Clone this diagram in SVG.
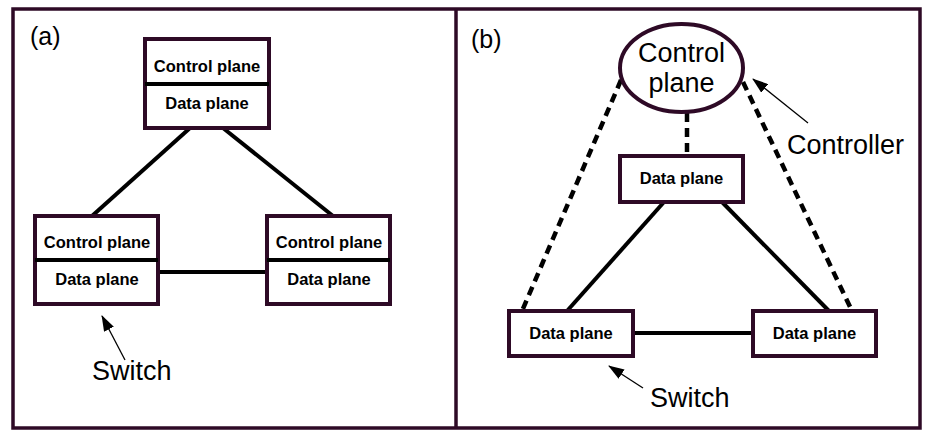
<svg xmlns="http://www.w3.org/2000/svg" width="929" height="438" viewBox="0 0 929 438">
<style>
.frame{fill:none;stroke:#2e0a26;stroke-width:3.5}
.box{fill:#fff;stroke:#2e0a26;stroke-width:4}
.div{stroke:#000;stroke-width:4}
.link{stroke:#000;stroke-width:4;fill:none}
.dash{stroke:#000;stroke-width:4.5;fill:none;stroke-dasharray:9 6}
.ptr{stroke:#000;stroke-width:1.3;fill:none;marker-end:url(#ah)}
.bl{font-family:"Liberation Sans",Arial,sans-serif;font-weight:bold;font-size:16.5px;text-anchor:middle;fill:#000}
.lab{font-family:"Liberation Sans",Arial,sans-serif;font-size:27px;fill:#000}
</style>
<defs>
<marker id="ah" viewBox="0 0 16 11" refX="15" refY="5.5" markerWidth="16" markerHeight="11" markerUnits="userSpaceOnUse" orient="auto">
<path d="M0,0 L16,5.5 L0,11 Z" fill="#000"/>
</marker>
</defs>
<g id="frames">
<rect class="frame" x="13" y="9" width="907" height="419"/>
<line class="frame" x1="456" y1="9" x2="456" y2="428"/>
</g>
<g id="connectors">
<line class="link" x1="190" y1="128" x2="92" y2="216"/>
<line class="link" x1="223" y1="128" x2="333" y2="216"/>
<line class="link" x1="158" y1="272" x2="267" y2="272"/>
<line class="link" x1="664" y1="202" x2="567" y2="311"/>
<line class="link" x1="722" y1="202" x2="829" y2="311"/>
<line class="link" x1="633" y1="333" x2="753" y2="333"/>
<line class="dash" x1="687" y1="113" x2="687" y2="156"/>
<line class="dash" x1="621" y1="80" x2="522" y2="311"/>
<line class="dash" x1="743" y1="82" x2="852" y2="311"/>
<line class="ptr" x1="125" y1="360" x2="102" y2="316"/>
<line class="ptr" x1="808" y1="123" x2="753" y2="79"/>
<line class="ptr" x1="643" y1="388" x2="609" y2="366"/>
</g>
<g id="label-a"><text class="lab" x="30" y="45" style="font-size:25px">(a)</text></g>
<g id="label-b"><text class="lab" x="471" y="48" style="font-size:25px">(b)</text></g>
<g id="switch-a-top">
<rect class="box" x="145" y="39" width="124" height="89"/>
<line class="div" x1="145" y1="84" x2="269" y2="84"/>
<text class="bl" x="207" y="72">Control plane</text>
<text class="bl" x="207" y="109">Data plane</text>
</g>
<g id="switch-a-left">
<rect class="box" x="35" y="216" width="123" height="88"/>
<line class="div" x1="35" y1="260" x2="158" y2="260"/>
<text class="bl" x="97" y="248">Control plane</text>
<text class="bl" x="97" y="285">Data plane</text>
</g>
<g id="switch-a-right">
<rect class="box" x="267" y="216" width="123" height="88"/>
<line class="div" x1="267" y1="260" x2="390" y2="260"/>
<text class="bl" x="329" y="248">Control plane</text>
<text class="bl" x="329" y="285">Data plane</text>
</g>
<g id="text-switch-a"><text class="lab" x="92" y="380">Switch</text></g>
<g id="controller">
<ellipse class="box" cx="681.5" cy="68" rx="61.5" ry="44"/>
<text class="lab" x="681.5" y="62" text-anchor="middle">Control</text>
<text class="lab" x="681.5" y="92" text-anchor="middle">plane</text>
</g>
<g id="switch-b-top">
<rect class="box" x="620" y="156" width="123" height="46"/>
<text class="bl" x="681.5" y="184">Data plane</text>
</g>
<g id="switch-b-left">
<rect class="box" x="509" y="311" width="124" height="45"/>
<text class="bl" x="571" y="339">Data plane</text>
</g>
<g id="switch-b-right">
<rect class="box" x="753" y="311" width="123" height="45"/>
<text class="bl" x="814.5" y="339">Data plane</text>
</g>
<g id="text-controller"><text class="lab" x="787" y="154">Controller</text></g>
<g id="text-switch-b"><text class="lab" x="650" y="407">Switch</text></g>
</svg>
